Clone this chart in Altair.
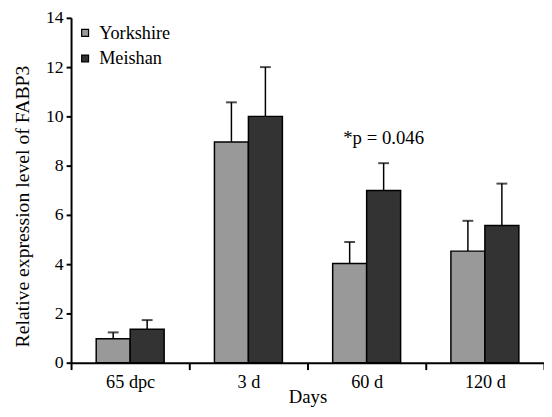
import altair as alt
import pandas as pd

days = ["65 dpc", "3 d", "60 d", "120 d"]
breeds = ["Yorkshire", "Meishan"]
yorkshire_mean = [0.97, 8.96, 4.03, 4.53]
yorkshire_se = [0.26, 1.61, 0.87, 1.23]
meishan_mean = [1.36, 10.0, 6.99, 5.57]
meishan_se = [0.37, 2.0, 1.11, 1.70]

annot_text = ["*p = 0.046"]
annot_day = ["60 d"]
annot_breed = ["Meishan"]
annot_y = [8.88]

rows = []
for i, d in enumerate(days):
    rows.append({"day": d, "breed": "Yorkshire", "value": yorkshire_mean[i],
                 "upper": yorkshire_mean[i] + yorkshire_se[i]})
    rows.append({"day": d, "breed": "Meishan", "value": meishan_mean[i],
                 "upper": meishan_mean[i] + meishan_se[i]})
df = pd.DataFrame(rows)
adf = pd.DataFrame({"day": annot_day, "breed": annot_breed, "y": annot_y, "label": annot_text})

FONT = "Liberation Serif"

x_enc = alt.X("day:N", sort=days,
              scale=alt.Scale(paddingInner=0, paddingOuter=0),
              axis=alt.Axis(title="Days", labelAngle=0, tickBand="extent",
                            labelFontSize=18.5, titleFontSize=19, tickSize=7,
                            labelPadding=3, titleY=40.5, titleBaseline="alphabetic",
                            domainWidth=2, tickWidth=2))
xo_enc = alt.XOffset("breed:N", sort=breeds,
                     scale=alt.Scale(paddingInner=0, paddingOuter=0.74))

bars = alt.Chart(df).mark_bar(stroke="black", strokeWidth=1.5).encode(
    x=x_enc,
    xOffset=xo_enc,
    y=alt.Y("value:Q", scale=alt.Scale(domain=[0, 14], nice=False),
            axis=alt.Axis(title="Relative expression level of FABP3",
                          values=list(range(0, 15, 2)), tickSize=5,
                          labelFontSize=18, titleFontSize=20, labelPadding=3,
                          titleX=-49, titleY=191, titleBaseline="middle",
                          domainWidth=2, tickWidth=2)),
    color=alt.Color("breed:N", sort=breeds,
                    scale=alt.Scale(domain=breeds, range=["#999999", "#333333"]),
                    legend=alt.Legend(title=None, orient="none", legendX=5, legendY=6,
                                      symbolType="square", symbolSize=49,
                                      symbolStrokeColor="black", symbolStrokeWidth=1.2,
                                      labelFontSize=18.5, labelOffset=5, rowPadding=7,
                                      padding=0)),
)

rules = alt.Chart(df).mark_rule(color="black", strokeWidth=1.5).encode(
    x=alt.X("day:N", sort=days), xOffset=alt.XOffset("breed:N", sort=breeds),
    y="value:Q", y2="upper:Q")

caps = alt.Chart(df).mark_tick(color="black", thickness=2, size=11).encode(
    x=alt.X("day:N", sort=days), xOffset=alt.XOffset("breed:N", sort=breeds),
    y="upper:Q")

text = alt.Chart(adf).mark_text(fontSize=19, baseline="alphabetic", color="black").encode(
    x=alt.X("day:N", sort=days), xOffset=alt.XOffset("breed:N", sort=breeds),
    y="y:Q", text="label:N")

chart = alt.layer(bars, rules, caps, text).properties(
    width=480, height=350,
    autosize=alt.AutoSizeParams(type="none"),
    padding={"left": 64, "top": 7, "right": 0, "bottom": 44},
).configure(font=FONT).configure_view(stroke=None).configure_axis(
    grid=False, domainColor="black", tickColor="black", labelColor="black",
    titleColor="black", titleFontWeight="normal", labelFont=FONT, titleFont=FONT
).configure_legend(labelColor="black", labelFont=FONT)

chart.save("out.html", embed_options={"renderer": "svg", "actions": False})
